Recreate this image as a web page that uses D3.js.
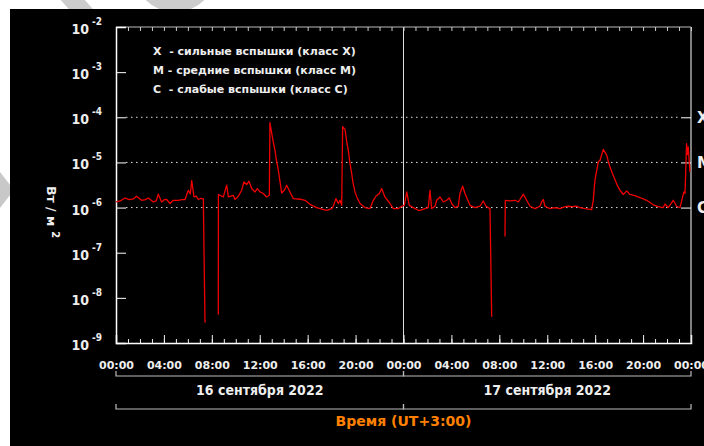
<!DOCTYPE html>
<html>
<head>
<meta charset="utf-8">
<script src="https://cdn.jsdelivr.net/npm/d3@7"></script>
<style>
  body { margin: 0; background: #fff; }
  svg text { font-family: "DejaVu Sans", sans-serif; font-weight: bold; }
</style>
</head>
<body>
<script>
// hours since 16 Sep 00:00 (UT+3) and flux, W/m^2 (null = gap in data)
var hours = [0.00, 0.35, 0.75, 1.10, 1.45, 1.72, 2.14, 2.45, 2.70, 3.12, 3.35, 3.53, 3.81, 4.05, 4.23, 4.51, 4.78, 5.20, 5.50, 5.76,
  6.04, 6.20, 6.32, 6.51, 6.70, 6.87, 7.10, 7.29, 7.43, 8.00, 8.54, 8.55, 8.96, 9.24, 9.38, 9.79, 9.93, 10.21, 10.49, 10.68,
  10.91, 11.10, 11.33, 11.60, 11.80, 12.02, 12.30, 12.58, 12.80, 12.85, 13.00, 13.13, 13.27, 13.40, 13.55, 13.70, 13.83, 14.05, 14.25, 14.52,
  14.80, 15.36, 15.78, 16.19, 16.75, 17.20, 17.59, 18.01, 18.14, 18.36, 18.56, 18.70, 18.84, 18.92, 19.12, 19.25, 19.39, 19.52, 19.67, 19.80,
  19.95, 20.15, 20.37, 20.78, 21.20, 21.48, 21.70, 21.98, 22.18, 22.45, 22.87, 23.15, 23.57, 23.85, 24.07, 24.27, 24.48, 24.82, 25.23, 25.38,
  25.79, 26.07, 26.21, 26.35, 26.63, 26.77, 27.05, 27.32, 27.60, 27.82, 28.02, 28.30, 28.57, 28.71, 28.94, 29.13, 29.55, 29.97, 30.38, 30.66,
  30.89, 31.22, 31.36, 32.00, 32.47, 32.50, 32.89, 33.31, 33.58, 33.72, 34.00, 34.28, 34.56, 34.97, 35.39, 35.53, 35.67, 35.81, 36.23, 36.64,
  37.06, 37.48, 37.76, 38.04, 38.45, 38.73, 39.15, 39.71, 39.84, 39.98, 40.26, 40.40, 40.68, 40.96, 41.10, 41.24, 41.45, 41.65, 41.85, 42.07,
  42.35, 42.63, 42.90, 43.32, 43.74, 44.30, 44.85, 45.27, 45.69, 45.83, 46.10, 46.52, 46.80, 47.08, 47.30, 47.41, 47.50, 47.63, 47.70, 47.77,
  47.91];
var flux = [1.33e-6, 1.4e-6, 1.63e-6, 1.5e-6, 1.55e-6, 1.78e-6, 1.45e-6, 1.5e-6, 1.63e-6, 1.33e-6, 1.4e-6, 1.98e-6, 1.33e-6, 1.5e-6, 1.51e-6, 1.23e-6, 1.45e-6, 1.45e-6, 1.5e-6, 1.51e-6,
  2.42e-6, 2.0e-6, 3.98e-6, 1.72e-6, 1.8e-6, 1.51e-6, 1.6e-6, 1.55e-6, 2.8e-9, null, 4.2e-9, 1.95e-6, 1.72e-6, 3.13e-6, 1.72e-6, 1.87e-6, 1.51e-6, 1.78e-6, 2.42e-6, 3.7e-6,
  3.24e-6, 3.84e-6, 2.64e-6, 2.22e-6, 2.64e-6, 2.22e-6, 2.05e-6, 1.72e-6, 1.87e-6, 7.6e-5, 4.4e-5, 2.8e-5, 1.87e-5, 1.1e-5, 6.7e-6, 3.6e-6, 2.1e-6, 2.42e-6, 3.13e-6, 2.22e-6,
  1.58e-6, 1.53e-6, 1.45e-6, 1.18e-6, 1.0e-6, 0.92e-6, 0.87e-6, 0.95e-6, 1.07e-6, 1.58e-6, 1.23e-6, 1.45e-6, 1.12e-6, 6.2e-5, 5.4e-5, 3.0e-5, 1.87e-5, 1.0e-5, 5.7e-6, 3.4e-6,
  2.22e-6, 1.6e-6, 1.23e-6, 1.0e-6, 0.95e-6, 1.45e-6, 1.78e-6, 2.05e-6, 2.64e-6, 1.72e-6, 1.23e-6, 0.95e-6, 0.95e-6, 1.07e-6, 1.12e-6, 2.22e-6, 1.12e-6, 1.0e-6, 0.87e-6, 0.87e-6,
  0.95e-6, 1.0e-6, 2.42e-6, 0.95e-6, 1.07e-6, 1.45e-6, 1.72e-6, 1.33e-6, 1.45e-6, 1.63e-6, 1.23e-6, 1.0e-6, 1.07e-6, 2.05e-6, 2.97e-6, 2.05e-6, 1.12e-6, 1.0e-6, 1.07e-6, 1.4e-6,
  1.07e-6, 0.95e-6, 3.8e-9, null, 2.3e-7, 1.45e-6, 1.4e-6, 1.45e-6, 1.33e-6, 1.51e-6, 1.98e-6, 1.45e-6, 1.07e-6, 0.95e-6, 1.07e-6, 1.33e-6, 1.51e-6, 1.07e-6, 0.95e-6, 1.0e-6,
  0.95e-6, 1.05e-6, 1.07e-6, 1.05e-6, 1.07e-6, 1.0e-6, 0.95e-6, 0.9e-6, 1.45e-6, 4.0e-6, 1.03e-5, 1.1e-5, 1.95e-5, 1.45e-5, 1.05e-5, 7.9e-6, 5.6e-6, 4.2e-6, 3.1e-6, 2.42e-6,
  1.95e-6, 2.34e-6, 1.95e-6, 1.84e-6, 1.67e-6, 1.45e-6, 1.15e-6, 1.05e-6, 1.0e-6, 1.2e-6, 1.0e-6, 1.45e-6, 1.07e-6, 1.0e-6, 1.72e-6, 2.22e-6, 2.05e-6, 2.6e-5, 1.5e-5, 2.2e-5,
  6.2e-6];

var decades = [-9, -8, -7, -6, -5, -4, -3, -2];
var classLevels = [1e-4, 1e-5, 1e-6];
var classLabels = ["X", "M", "C"];
var legendLines = ["X  - сильные вспышки (класс X)", "M - средние вспышки (класс M)", "C  - слабые вспышки (класс C)"];
var hourLabels = ["00:00", "04:00", "08:00", "12:00", "16:00", "20:00"];
var dayLabels = ["16 сентября 2022", "17 сентября 2022"];
var yTitle = "Вт / м";
var xTitle = "Время (UT+3:00)";

var svgWidth = 704, svgHeight = 446;
var plotL = 116, plotR = 691, plotT = 27, plotB = 343;

var svg = d3.select("body").append("svg")
    .attr("width", svgWidth)
    .attr("height", svgHeight);

// faint watermark on white page
svg.append("path")
    .attr("d", "M55,-20 L95,25")
    .attr("stroke", "#ccc").attr("stroke-width", 18).attr("fill", "none");
svg.append("circle")
    .attr("cx", 175).attr("cy", -30).attr("r", 36)
    .attr("stroke", "#ccc").attr("stroke-width", 12).attr("fill", "none");
svg.append("path")
    .attr("d", "M0,172 L14,190 L0,208 Z").attr("fill", "#c8c8c8");

svg.append("rect")
    .attr("x", 10).attr("y", 9)
    .attr("width", svgWidth - 10).attr("height", svgHeight - 9)
    .attr("fill", "#000");

var x = d3.scaleLinear().domain([0, 48]).range([plotL, plotR]);
var y = d3.scaleLog().domain([1e-9, 1e-2]).range([plotB, plotT]);

// dotted class levels
svg.append("g").selectAll("line")
    .data(classLevels)
    .enter().append("line")
    .attr("x1", plotL + 10).attr("x2", plotR - 10)
    .attr("y1", function(d) { return y(d); })
    .attr("y2", function(d) { return y(d); })
    .attr("stroke", "#ddd").attr("stroke-width", 1)
    .attr("stroke-dasharray", "1.5,3.5");

// day separator
svg.append("line")
    .attr("x1", x(24)).attr("x2", x(24))
    .attr("y1", plotT).attr("y2", plotB)
    .attr("stroke", "#ddd").attr("stroke-width", 1);

// frame
svg.append("line").attr("x1", plotL).attr("x2", plotR).attr("y1", plotT).attr("y2", plotT)
    .attr("stroke", "#bbb");
svg.append("line").attr("x1", plotR).attr("x2", plotR).attr("y1", plotT).attr("y2", plotB)
    .attr("stroke", "#aaa").attr("stroke-width", 1.5);

var hourTicks = d3.range(0, 49, 1);
var majorTicks = d3.range(0, 49, 4);

// bottom axis: minor and major ticks pointing up
svg.append("g")
    .attr("transform", "translate(0," + plotB + ")")
    .call(d3.axisBottom(x).tickValues(hourTicks).tickSize(-4).tickFormat(""))
    .call(function(g) { g.select(".domain").remove(); })
    .selectAll("line").attr("stroke", "#eee");
var xAxis = svg.append("g")
    .attr("transform", "translate(0," + plotB + ")")
    .call(d3.axisBottom(x).tickValues(majorTicks).tickSize(-8).tickPadding(18)
      .tickFormat(function(d) { return hourLabels[(d % 24) / 4]; }));
xAxis.select(".domain").attr("stroke", "#fff").attr("stroke-width", 1.5);
xAxis.selectAll("line").attr("stroke", "#eee");
xAxis.selectAll("text").attr("fill", "#eee").style("font-size", "11px");

// top axis ticks pointing down
svg.append("g")
    .attr("transform", "translate(0," + plotT + ")")
    .call(d3.axisTop(x).tickValues(hourTicks).tickSize(-4).tickFormat(""))
    .call(function(g) { g.select(".domain").remove(); })
    .selectAll("line").attr("stroke", "#ccc");

// left axis
var yAxis = svg.append("g")
    .attr("transform", "translate(" + plotL + ",0)")
    .call(d3.axisLeft(y).tickValues(decades.map(function(p) { return Math.pow(10, p); }))
      .tickSize(-10).tickFormat(""));
yAxis.select(".domain").attr("stroke", "#fff").attr("stroke-width", 1.5);
yAxis.selectAll("line").attr("stroke", "#fff");

svg.append("g").selectAll("text")
    .data(decades)
    .enter().append("text")
    .attr("x", 89)
    .attr("y", function(d) { return y(Math.pow(10, d)) + 7; })
    .attr("text-anchor", "end")
    .attr("fill", "#eee")
    .style("font-family", "'DejaVu Sans Condensed', 'DejaVu Sans', sans-serif")
    .style("font-size", "14px")
    .text("10");
svg.append("g").selectAll("text")
    .data(decades)
    .enter().append("text")
    .attr("x", 92)
    .attr("y", function(d) { return y(Math.pow(10, d)) - 2; })
    .attr("fill", "#eee")
    .style("font-family", "'DejaVu Sans Condensed', 'DejaVu Sans', sans-serif")
    .style("font-size", "10px")
    .text(function(d) { return d; });

// right axis ticks + class letters
var rAxis = svg.append("g")
    .attr("transform", "translate(" + plotR + ",0)")
    .call(d3.axisRight(y).tickValues(classLevels).tickSize(-10).tickPadding(16)
      .tickFormat(function(d, i) { return classLabels[i]; }));
rAxis.select(".domain").remove();
rAxis.selectAll("line").attr("stroke", "#fff");
rAxis.selectAll("text").attr("fill", "#eee").attr("text-anchor", "start")
    .attr("dx", -10).style("font-size", "15px");

// y title
svg.append("text")
    .attr("transform", "translate(47,212) rotate(90)")
    .attr("text-anchor", "middle")
    .attr("fill", "#eee")
    .style("font-size", "12.5px")
    .style("white-space", "pre")
    .text(yTitle)
    .append("tspan").attr("dx", 5).attr("dy", -5).style("font-size", "10px").text("2");

// legend
svg.append("g").selectAll("text")
    .data(legendLines)
    .enter().append("text")
    .attr("x", 153)
    .attr("y", function(d, i) { return 55 + i * 19; })
    .attr("fill", "#eee")
    .style("font-size", "11px")
    .style("white-space", "pre")
    .text(function(d) { return d; });

// flux line
var valueline = d3.line()
    .defined(function(d) { return d[1] != null; })
    .x(function(d) { return x(d[0]); })
    .y(function(d) { return y(d[1]); });
var series = hours.map(function(h, i) { return [h, flux[i]]; });
svg.append("path")
    .datum(series)
    .attr("d", valueline)
    .attr("fill", "none")
    .attr("stroke", "#f00000")
    .attr("stroke-width", 1.3)
    .attr("stroke-linejoin", "round");

// day brackets
var bracket = function(yy, x0, x1) {
  svg.append("path")
      .attr("d", "M" + x0 + "," + (yy - 5) + "V" + yy + "H" + x1 + "V" + (yy - 5))
      .attr("fill", "none").attr("stroke", "#bbb").attr("stroke-width", 1.2);
};
bracket(376, x(0), x(24));
bracket(376, x(24), x(48));
bracket(409, x(0), x(24));
bracket(409, x(24), x(48));

svg.append("g").selectAll("text")
    .data(dayLabels)
    .enter().append("text")
    .attr("x", function(d, i) { return x(i * 24 + 12); })
    .attr("y", 395)
    .attr("text-anchor", "middle")
    .attr("fill", "#eee")
    .style("font-family", "'DejaVu Sans Condensed', 'DejaVu Sans', sans-serif")
    .style("font-size", "14px")
    .text(function(d) { return d; });

svg.append("text")
    .attr("x", x(24))
    .attr("y", 426)
    .attr("text-anchor", "middle")
    .attr("fill", "#ff8000")
    .style("font-size", "14px")
    .text(xTitle);
</script>
</body>
</html>
